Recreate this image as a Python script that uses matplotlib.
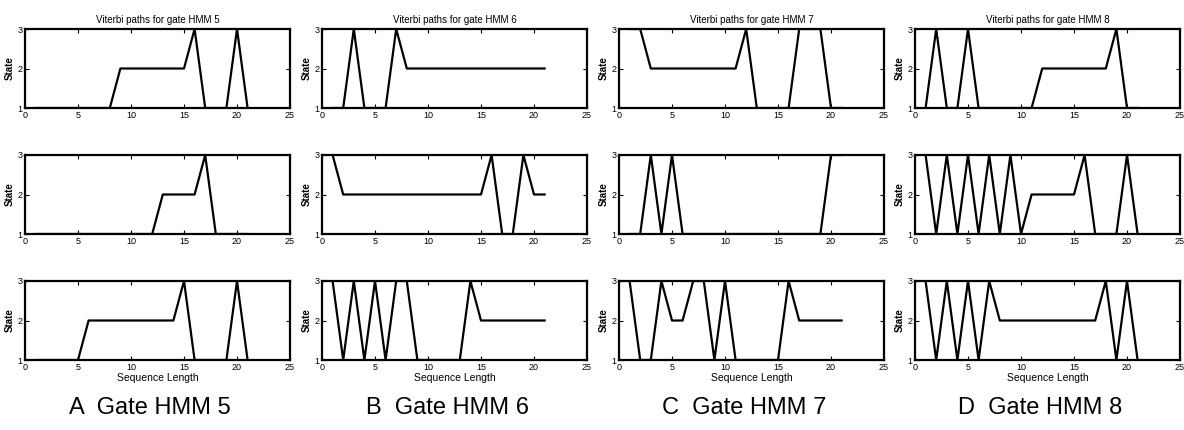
import matplotlib
matplotlib.use('Agg')
import matplotlib.pyplot as plt

# Viterbi state paths over the sequence, three samples per gate HMM
steps = list(range(1, 22))

hmm5_paths = [
    [1, 1, 1, 1, 1, 1, 1, 1, 2, 2, 2, 2, 2, 2, 2, 3, 1, 1, 1, 3, 1],
    [1, 1, 1, 1, 1, 1, 1, 1, 1, 1, 1, 1, 2, 2, 2, 2, 3, 1, 1, 1, 1],
    [1, 1, 1, 1, 1, 2, 2, 2, 2, 2, 2, 2, 2, 2, 3, 1, 1, 1, 1, 3, 1],
]
hmm6_paths = [
    [1, 1, 3, 1, 1, 1, 3, 2, 2, 2, 2, 2, 2, 2, 2, 2, 2, 2, 2, 2, 2],
    [3, 2, 2, 2, 2, 2, 2, 2, 2, 2, 2, 2, 2, 2, 2, 3, 1, 1, 3, 2, 2],
    [3, 1, 3, 1, 3, 1, 3, 3, 1, 1, 1, 1, 1, 3, 2, 2, 2, 2, 2, 2, 2],
]
hmm7_paths = [
    [3, 3, 2, 2, 2, 2, 2, 2, 2, 2, 2, 3, 1, 1, 1, 1, 3, 3, 3, 1, 1],
    [1, 1, 3, 1, 3, 1, 1, 1, 1, 1, 1, 1, 1, 1, 1, 1, 1, 1, 1, 3, 3],
    [3, 1, 1, 3, 2, 2, 3, 3, 1, 3, 1, 1, 1, 1, 1, 3, 2, 2, 2, 2, 2],
]
hmm8_paths = [
    [1, 3, 1, 1, 3, 1, 1, 1, 1, 1, 1, 2, 2, 2, 2, 2, 2, 2, 3, 1, 1],
    [3, 1, 3, 1, 3, 1, 3, 1, 3, 1, 2, 2, 2, 2, 2, 3, 1, 1, 1, 3, 1],
    [3, 1, 3, 1, 3, 1, 3, 2, 2, 2, 2, 2, 2, 2, 2, 2, 2, 3, 1, 3, 1],
]

gate_ids = [5, 6, 7, 8]
panel_letters = ['A', 'B', 'C', 'D']
all_paths = [hmm5_paths, hmm6_paths, hmm7_paths, hmm8_paths]

x_ticks = [0, 5, 10, 15, 20, 25]
y_ticks = [1, 2, 3]

plt.rcParams['font.family'] = ['Liberation Sans Narrow', 'Liberation Sans', 'DejaVu Sans']

W, H = 1184, 430
fig = plt.figure(figsize=(W / 100, H / 100), dpi=100)

col_left = [25, 322, 619, 915]
row_top = [29, 155, 281]
ax_w, ax_h = 265, 79

for c, (gid, letter, paths) in enumerate(zip(gate_ids, panel_letters, all_paths)):
    for r, path in enumerate(paths):
        ax = fig.add_axes([col_left[c] / W, 1 - (row_top[r] + ax_h) / H, ax_w / W, ax_h / H])
        ax.plot(steps, path, color='black', linewidth=1.6)
        ax.set_xlim(0, 25)
        ax.set_ylim(1, 3)
        ax.set_xticks(x_ticks)
        ax.set_yticks(y_ticks)
        ax.tick_params(direction='in', top=True, right=True, labelsize=6.5,
                       length=3, width=0.8, pad=2)
        for sp in ax.spines.values():
            sp.set_linewidth(1.6)
        ax.set_ylabel('State', fontsize=7, fontweight='bold', labelpad=2,
                      family=['Liberation Sans', 'DejaVu Sans'])
        if r == 0:
            ax.set_title(f'Viterbi paths for gate HMM {gid}', fontsize=7, pad=4)
        if r == 2:
            ax.set_xlabel('Sequence Length', fontsize=7.5, labelpad=1)
    # caption under each column
    fig.text((col_left[c] + 125) / W, 1 - 408 / H, f'{letter}  Gate HMM {gid}',
             ha='center', va='center', fontsize=17,
             family=['Liberation Sans', 'DejaVu Sans'])

fig.savefig('out.png', dpi=100)
